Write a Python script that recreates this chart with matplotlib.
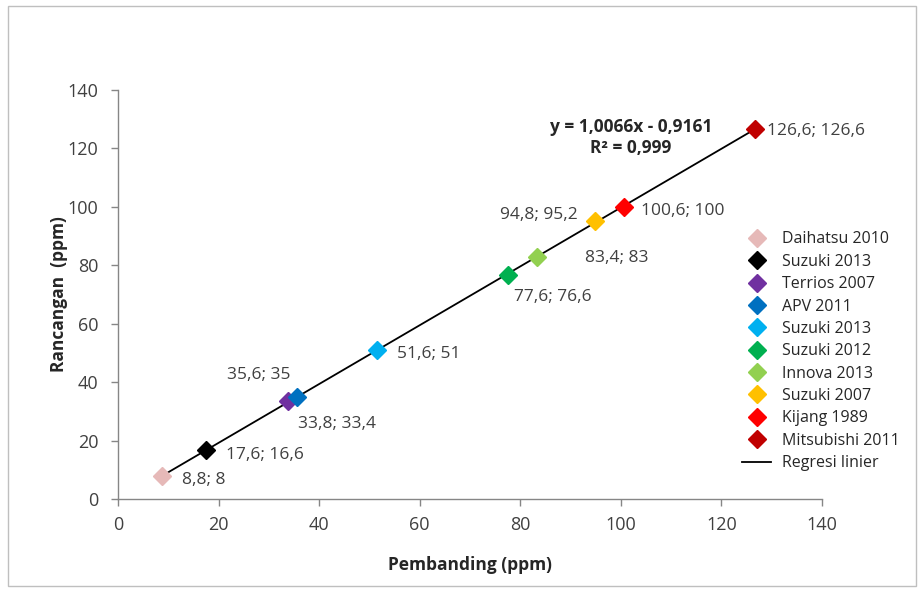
import matplotlib.pyplot as plt
from matplotlib.patches import Rectangle

plt.rcParams['font.family'] = ['Open Sans', 'DejaVu Sans']

names = ['Daihatsu 2010', 'Suzuki 2013', 'Terrios 2007', 'APV 2011', 'Suzuki 2013',
         'Suzuki 2012', 'Innova 2013', 'Suzuki 2007', 'Kijang 1989', 'Mitsubishi 2011']
pembanding = [8.8, 17.6, 33.8, 35.6, 51.6, 77.6, 83.4, 94.8, 100.6, 126.6]
rancangan = [8, 16.6, 33.4, 35, 51, 76.6, 83, 95.2, 100, 126.6]
labels = ['8,8; 8', '17,6; 16,6', '33,8; 33,4', '35,6; 35', '51,6; 51',
          '77,6; 76,6', '83,4; 83', '94,8; 95,2', '100,6; 100', '126,6; 126,6']
colors = ['#E6B9B8', '#000000', '#7030A0', '#0070C0', '#00B0F0',
          '#00B050', '#92D050', '#FFC000', '#FF0000', '#C00000']
slope, intercept = 1.0066, -0.9161

# label offsets in points (dx, dy, ha)
offsets = [(14, -3, 'left'), (14, -3, 'left'), (7, -16, 'left'), (-5, 16, 'right'),
           (14, -3, 'left'), (4, -16, 'left'), (34, -1, 'left'), (-12, 4, 'right'),
           (12, -3, 'left'), (9, -1, 'left')]

fig = plt.figure(figsize=(9.24, 5.92), dpi=100)
ax = fig.add_axes([0.1277, 0.1571, 0.7619, 0.6909])

fig.patches.append(Rectangle((8 / 924, 6 / 592), 908 / 924, 580 / 592, transform=fig.transFigure,
                             fill=False, edgecolor='#BFBFBF', linewidth=1.0))

for x, y, n, c in zip(pembanding, rancangan, names, colors):
    ax.plot(x, y, 'D', color=c, markersize=9.5, label=n, zorder=3)

xs = [min(pembanding), max(pembanding)]
ax.plot(xs, [slope * v + intercept for v in xs], color='black', linewidth=1.3,
        label='Regresi linier', zorder=2)

for x, y, t, (dx, dy, ha) in zip(pembanding, rancangan, labels, offsets):
    ax.annotate(t, (x, y), xytext=(dx, dy), textcoords='offset points', ha=ha,
                va='center', fontsize=12.5, color='#404040')

ax.text(102, 123.8, 'y = 1,0066x - 0,9161\nR² = 0,999', ha='center', va='center',
        fontsize=12.5, fontweight='bold', color='#262626', linespacing=1.2)

ax.set_xlim(0, 140)
ax.set_ylim(0, 140)
ax.set_xticks(range(0, 141, 20))
ax.set_yticks(range(0, 141, 20))
ax.tick_params(labelsize=13, colors='#868686', labelcolor='#404040', length=5, width=1)
ax.tick_params(axis='y', pad=9)
ax.tick_params(axis='x', pad=7)
for s in ['top', 'right']:
    ax.spines[s].set_visible(False)
for s in ['left', 'bottom']:
    ax.spines[s].set_color('#868686')
    ax.spines[s].set_linewidth(1)

ax.set_xlabel('Pembanding (ppm)', fontsize=12.5, fontweight='bold', color='#262626', labelpad=16)
ax.set_ylabel('Rancangan  (ppm)', fontsize=12.5, fontweight='bold', color='#262626', labelpad=0)

ax.legend(loc='upper left', bbox_to_anchor=(0.878, 0.67), frameon=False, fontsize=11.5,
          handlelength=1.8, labelspacing=0.4, borderaxespad=0, handletextpad=0.7,
          labelcolor='#262626')

fig.savefig('out.png', dpi=100)
